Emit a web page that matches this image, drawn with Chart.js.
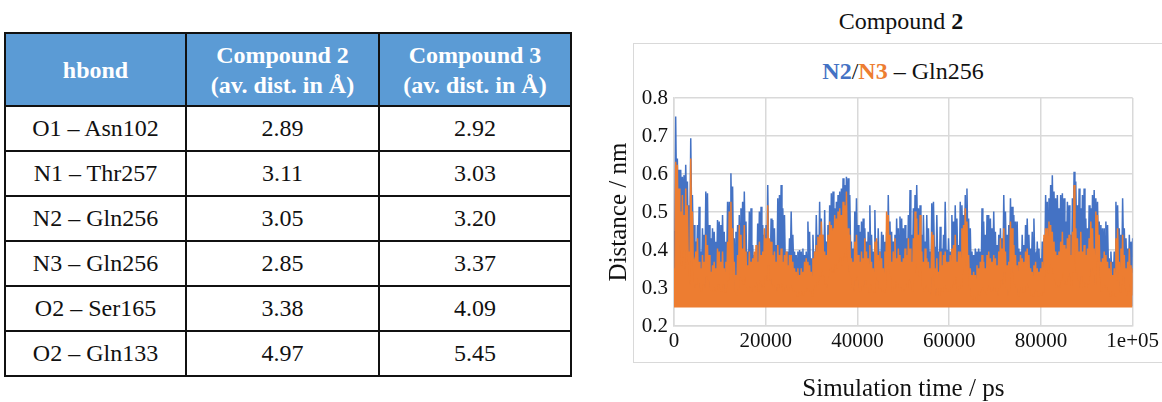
<!DOCTYPE html>
<html>
<head>
<meta charset="utf-8">
<script src="https://cdn.jsdelivr.net/npm/chart.js@4.4.0/dist/chart.umd.min.js"></script>
<style>
  html, body { margin: 0; padding: 0; background: #fff; }
  body { width: 1162px; height: 402px; position: relative; overflow: hidden; font-family: "Liberation Serif", Tinos, "Times New Roman", Times, "Nimbus Roman", "DejaVu Serif", "Noto Serif", serif; }
  #hbondTable { position: absolute; left: 4px; top: 32px; border-collapse: collapse; table-layout: fixed; font-family: inherit; }
  #hbondTable th, #hbondTable td { border: 2px solid #111; text-align: center; padding: 0; font-size: 24px; font-family: inherit; }
  #hbondTable th { background: #5b9bd5; color: #fff; font-weight: bold; height: 71px; line-height: 30px; }
  #hbondTable td { height: 43px; color: #111; }
  #chartBox { position: absolute; left: 633px; top: 43px; width: 560px; height: 318px; border: 1.5px solid #d9d9d9; }
  #mainTitle { position: absolute; left: 701px; width: 400px; top: 8px; text-align: center; font-size: 24px; color: #111; }
  #subTitle { position: absolute; left: 703px; width: 400px; top: 58px; text-align: center; font-size: 24px; color: #111; }
  #chartCanvas { position: absolute; left: 607px; top: 0; }
</style>
</head>
<body>
<table id="hbondTable"></table>
<div id="chartBox"></div>
<div id="mainTitle">Compound <b>2</b></div>
<div id="subTitle"><b style="color:#4472c4">N2</b>/<b style="color:#ed7d31">N3</b> – Gln256</div>
<canvas id="chartCanvas" width="555" height="402"></canvas>
<script>
// table
const hbondNames = ['O1 – Asn102', 'N1 – Thr257', 'N2 – Gln256', 'N3 – Gln256', 'O2 – Ser165', 'O2 – Gln133'];
const compound2Dist = ['2.89', '3.11', '3.05', '2.85', '3.38', '4.97'];
const compound3Dist = ['2.92', '3.03', '3.20', '3.37', '4.09', '5.45'];

// chart: distance (nm) vs simulation time
// peaks = spike tops, dips = the troughs between them
const n2Peaks = [
  0.450, 0.751, 0.641, 0.611, 0.611, 0.593, 0.597, 0.624, 0.580, 0.518, 0.694, 0.545, 0.466, 0.422, 0.466, 0.514, 0.396, 0.457, 0.440, 0.554,
  0.549, 0.466, 0.431, 0.457, 0.448, 0.422, 0.479, 0.475, 0.466, 0.492, 0.448, 0.422, 0.527, 0.527, 0.602, 0.567, 0.431, 0.448, 0.466, 0.492,
  0.510, 0.527, 0.554, 0.475, 0.396, 0.501, 0.510, 0.413, 0.387, 0.387, 0.470, 0.501, 0.514, 0.466, 0.440, 0.466, 0.571, 0.422, 0.483, 0.479,
  0.457, 0.413, 0.536, 0.545, 0.571, 0.510, 0.492, 0.396,
  0.396, 0.431, 0.501, 0.440, 0.396, 0.387, 0.396, 0.400, 0.396, 0.404, 0.387, 0.396, 0.475, 0.448, 0.378, 0.440, 0.396, 0.492, 0.440, 0.527,
  0.483, 0.440, 0.505, 0.422, 0.466, 0.518, 0.549, 0.554, 0.510, 0.527, 0.545, 0.554, 0.562, 0.589, 0.571, 0.593, 0.589, 0.545, 0.422, 0.404,
  0.501, 0.536, 0.466, 0.448, 0.475, 0.483, 0.457, 0.422, 0.448, 0.518, 0.440, 0.396, 0.505, 0.422, 0.457, 0.396, 0.448, 0.440, 0.422, 0.448,
  0.545, 0.475, 0.448, 0.422, 0.440, 0.483, 0.457, 0.488, 0.483, 0.457,
  0.466, 0.431, 0.492, 0.558, 0.440, 0.510, 0.545, 0.571, 0.510, 0.518, 0.440, 0.492, 0.422, 0.492, 0.457, 0.396, 0.523, 0.527, 0.404, 0.492,
  0.396, 0.461, 0.404, 0.440, 0.527, 0.387, 0.431, 0.396, 0.492, 0.475, 0.518, 0.483, 0.413, 0.527, 0.518, 0.492, 0.545, 0.562, 0.483, 0.457,
  0.396, 0.387, 0.404, 0.396, 0.404, 0.396, 0.510, 0.475, 0.440, 0.492, 0.492, 0.483, 0.457, 0.501, 0.448, 0.413, 0.440, 0.457, 0.431, 0.545,
  0.501, 0.440, 0.466, 0.536, 0.514, 0.492, 0.475, 0.475, 0.404, 0.396,
  0.440, 0.413, 0.466, 0.483, 0.440, 0.404, 0.448, 0.483, 0.387, 0.422, 0.404, 0.378, 0.422, 0.431, 0.545, 0.527, 0.536, 0.571, 0.597, 0.554,
  0.536, 0.545, 0.510, 0.545, 0.549, 0.536, 0.475, 0.527, 0.518, 0.440, 0.536, 0.606, 0.580, 0.518, 0.562, 0.510, 0.545, 0.562, 0.483, 0.457,
  0.518, 0.510, 0.545, 0.558, 0.536, 0.527, 0.475, 0.466, 0.457, 0.457, 0.475, 0.466, 0.378, 0.396, 0.369, 0.396, 0.527, 0.518, 0.457, 0.440,
  0.536, 0.457, 0.431, 0.404, 0.440, 0.422, 0.431
];
const n2Dips = [
  0.40, 0.55, 0.52, 0.50, 0.48, 0.50, 0.47, 0.52, 0.42, 0.45, 0.50, 0.40, 0.36, 0.35, 0.38, 0.36, 0.33, 0.36, 0.35, 0.40,
  0.38, 0.34, 0.36, 0.35, 0.37, 0.34, 0.38, 0.36, 0.35, 0.37, 0.34, 0.36, 0.40, 0.42, 0.45, 0.38, 0.35, 0.37, 0.36, 0.38,
  0.40, 0.38, 0.41, 0.35, 0.33, 0.37, 0.39, 0.35, 0.33, 0.34, 0.37, 0.39, 0.38, 0.36, 0.35, 0.37, 0.40, 0.34, 0.37, 0.36,
  0.35, 0.34, 0.39, 0.41, 0.40, 0.37, 0.36, 0.33,
  0.34, 0.36, 0.38, 0.35, 0.33, 0.34, 0.33, 0.35, 0.34, 0.33, 0.34, 0.35, 0.37, 0.34, 0.33, 0.36, 0.34, 0.38, 0.35, 0.39,
  0.36, 0.35, 0.38, 0.34, 0.36, 0.39, 0.42, 0.41, 0.40, 0.43, 0.42, 0.44, 0.45, 0.46, 0.44, 0.47, 0.45, 0.40, 0.34, 0.35,
  0.38, 0.40, 0.36, 0.35, 0.37, 0.38, 0.36, 0.34, 0.36, 0.39, 0.35, 0.33, 0.37, 0.34, 0.36, 0.33, 0.35, 0.36, 0.34, 0.35,
  0.40, 0.37, 0.35, 0.34, 0.35, 0.38, 0.36, 0.37, 0.38, 0.35,
  0.36, 0.34, 0.38, 0.42, 0.35, 0.39, 0.42, 0.44, 0.40, 0.41, 0.35, 0.38, 0.34, 0.38, 0.36, 0.33, 0.40, 0.41, 0.34, 0.38,
  0.33, 0.37, 0.34, 0.36, 0.40, 0.33, 0.35, 0.33, 0.38, 0.37, 0.40, 0.37, 0.34, 0.40, 0.40, 0.38, 0.41, 0.43, 0.37, 0.35,
  0.33, 0.32, 0.34, 0.33, 0.34, 0.33, 0.39, 0.37, 0.35, 0.38, 0.38, 0.37, 0.36, 0.39, 0.35, 0.34, 0.35, 0.36, 0.35, 0.41,
  0.38, 0.35, 0.37, 0.40, 0.39, 0.38, 0.37, 0.36, 0.34, 0.33,
  0.35, 0.34, 0.37, 0.38, 0.35, 0.34, 0.36, 0.38, 0.33, 0.35, 0.34, 0.33, 0.35, 0.36, 0.42, 0.41, 0.42, 0.44, 0.46, 0.43,
  0.42, 0.43, 0.40, 0.43, 0.43, 0.42, 0.38, 0.41, 0.40, 0.35, 0.42, 0.47, 0.45, 0.40, 0.44, 0.40, 0.42, 0.44, 0.38, 0.36,
  0.40, 0.39, 0.42, 0.43, 0.41, 0.40, 0.37, 0.36, 0.36, 0.35, 0.37, 0.36, 0.33, 0.34, 0.33, 0.34, 0.41, 0.40, 0.36, 0.35,
  0.41, 0.36, 0.35, 0.33, 0.35, 0.34, 0.35
];
const n3Peaks = [
  0.352, 0.632, 0.624, 0.562, 0.501, 0.545, 0.492, 0.562, 0.518, 0.396, 0.641, 0.501, 0.369, 0.396, 0.431, 0.369, 0.352, 0.387, 0.369, 0.440,
  0.413, 0.387, 0.343, 0.360, 0.369, 0.352, 0.404, 0.396, 0.369, 0.396, 0.352, 0.369, 0.422, 0.501, 0.527, 0.457, 0.369, 0.334, 0.387, 0.466,
  0.440, 0.404, 0.466, 0.396, 0.360, 0.396, 0.369, 0.378, 0.396, 0.413, 0.369, 0.422, 0.387, 0.396, 0.457, 0.431, 0.518, 0.431, 0.422, 0.387,
  0.396, 0.369, 0.413, 0.387, 0.404, 0.369, 0.387, 0.396,
  0.360, 0.387, 0.387, 0.369, 0.352, 0.343, 0.352, 0.334, 0.352, 0.343, 0.369, 0.378, 0.369, 0.360, 0.343, 0.378, 0.396, 0.413, 0.435, 0.440,
  0.475, 0.440, 0.396, 0.387, 0.440, 0.475, 0.466, 0.457, 0.492, 0.483, 0.501, 0.510, 0.492, 0.527, 0.518, 0.554, 0.457, 0.440, 0.378, 0.369,
  0.422, 0.440, 0.387, 0.369, 0.396, 0.378, 0.431, 0.396, 0.378, 0.413, 0.369, 0.352, 0.422, 0.431, 0.387, 0.396, 0.378, 0.352, 0.396, 0.501,
  0.492, 0.440, 0.369, 0.396, 0.431, 0.378, 0.404, 0.387, 0.369, 0.378,
  0.404, 0.387, 0.431, 0.404, 0.369, 0.431, 0.501, 0.483, 0.440, 0.492, 0.396, 0.369, 0.404, 0.378, 0.369, 0.352, 0.448, 0.440, 0.352, 0.378,
  0.343, 0.396, 0.360, 0.387, 0.396, 0.369, 0.369, 0.387, 0.404, 0.413, 0.440, 0.369, 0.396, 0.396, 0.457, 0.466, 0.510, 0.475, 0.387, 0.352,
  0.334, 0.343, 0.334, 0.360, 0.352, 0.369, 0.387, 0.369, 0.352, 0.387, 0.396, 0.378, 0.369, 0.387, 0.378, 0.360, 0.396, 0.431, 0.404, 0.457,
  0.396, 0.360, 0.369, 0.475, 0.457, 0.413, 0.387, 0.360, 0.369, 0.387,
  0.378, 0.369, 0.396, 0.404, 0.387, 0.352, 0.343, 0.360, 0.369, 0.352, 0.343, 0.352, 0.369, 0.440, 0.457, 0.457, 0.475, 0.466, 0.448, 0.422,
  0.396, 0.387, 0.396, 0.422, 0.448, 0.413, 0.404, 0.431, 0.440, 0.387, 0.448, 0.571, 0.457, 0.431, 0.396, 0.448, 0.396, 0.413, 0.387, 0.404,
  0.431, 0.475, 0.457, 0.404, 0.501, 0.492, 0.440, 0.369, 0.378, 0.396, 0.387, 0.369, 0.352, 0.369, 0.334, 0.352, 0.431, 0.457, 0.369, 0.404,
  0.440, 0.387, 0.352, 0.369, 0.404, 0.360, 0.352
];
const n3Dips = [
  0.30, 0.45, 0.42, 0.40, 0.36, 0.40, 0.35, 0.40, 0.37, 0.31, 0.44, 0.36, 0.30, 0.31, 0.32, 0.30, 0.29, 0.31, 0.30, 0.33,
  0.32, 0.30, 0.29, 0.29, 0.30, 0.29, 0.31, 0.30, 0.29, 0.31, 0.29, 0.30, 0.32, 0.36, 0.38, 0.33, 0.29, 0.28, 0.30, 0.33,
  0.32, 0.31, 0.33, 0.30, 0.29, 0.30, 0.29, 0.30, 0.30, 0.31, 0.29, 0.32, 0.30, 0.30, 0.33, 0.32, 0.36, 0.32, 0.31, 0.30,
  0.30, 0.29, 0.31, 0.30, 0.31, 0.29, 0.30, 0.30,
  0.29, 0.30, 0.30, 0.29, 0.29, 0.28, 0.29, 0.28, 0.29, 0.28, 0.29, 0.30, 0.29, 0.29, 0.28, 0.30, 0.30, 0.31, 0.32, 0.33,
  0.35, 0.33, 0.31, 0.30, 0.33, 0.35, 0.34, 0.34, 0.36, 0.35, 0.37, 0.38, 0.36, 0.38, 0.38, 0.40, 0.34, 0.33, 0.30, 0.29,
  0.32, 0.33, 0.30, 0.29, 0.30, 0.30, 0.32, 0.30, 0.29, 0.31, 0.29, 0.29, 0.32, 0.32, 0.30, 0.30, 0.29, 0.29, 0.30, 0.36,
  0.35, 0.33, 0.29, 0.30, 0.32, 0.30, 0.31, 0.30, 0.29, 0.29,
  0.31, 0.30, 0.32, 0.31, 0.29, 0.32, 0.36, 0.35, 0.33, 0.36, 0.30, 0.29, 0.31, 0.30, 0.29, 0.28, 0.33, 0.32, 0.28, 0.30,
  0.28, 0.30, 0.29, 0.30, 0.30, 0.29, 0.29, 0.30, 0.31, 0.31, 0.33, 0.29, 0.30, 0.30, 0.34, 0.35, 0.37, 0.35, 0.30, 0.28,
  0.27, 0.28, 0.27, 0.29, 0.28, 0.29, 0.30, 0.29, 0.28, 0.30, 0.30, 0.29, 0.29, 0.30, 0.29, 0.28, 0.30, 0.32, 0.31, 0.34,
  0.30, 0.28, 0.29, 0.35, 0.34, 0.31, 0.30, 0.28, 0.29, 0.30,
  0.29, 0.29, 0.30, 0.31, 0.30, 0.28, 0.28, 0.29, 0.29, 0.28, 0.28, 0.28, 0.29, 0.33, 0.34, 0.34, 0.36, 0.35, 0.34, 0.32,
  0.30, 0.30, 0.30, 0.32, 0.34, 0.31, 0.31, 0.33, 0.33, 0.30, 0.34, 0.42, 0.34, 0.32, 0.30, 0.33, 0.30, 0.31, 0.30, 0.31,
  0.33, 0.35, 0.34, 0.31, 0.37, 0.37, 0.33, 0.29, 0.30, 0.31, 0.30, 0.29, 0.28, 0.29, 0.28, 0.28, 0.32, 0.34, 0.29, 0.31,
  0.33, 0.30, 0.28, 0.29, 0.31, 0.28, 0.29
];
const simEndPs = 100000;
const xTickLabels = ['0', '20000', '40000', '60000', '80000', '1e+05'];
const yTickLabels = ['0.2', '0.3', '0.4', '0.5', '0.6', '0.7', '0.8'];

// build table
const table = document.getElementById('hbondTable');
let html = '<colgroup><col style="width:181px"><col style="width:193px"><col style="width:192px"></colgroup>';
html += '<tr><th>hbond</th><th>Compound 2<br>(av. dist. in Å)</th><th>Compound 3<br>(av. dist. in Å)</th></tr>';
hbondNames.forEach((name, i) => {
    html += `<tr><td>${name}</td><td>${compound2Dist[i]}</td><td>${compound3Dist[i]}</td></tr>`;
});
table.innerHTML = html;

// peak at each sample time, trough half a step later
const stepPs = simEndPs / (n2Peaks.length - 1);
function tracePoints(peaks, dips) {
    const pts = [];
    peaks.forEach((v, i) => {
        pts.push({ x: i * stepPs, y: v });
        if (i < peaks.length - 1 && dips[i] !== undefined) pts.push({ x: (i + 0.5) * stepPs, y: dips[i] });
    });
    return pts;
}

const fontFam = '"Liberation Serif", Tinos, "Times New Roman", Times, "Nimbus Roman", "DejaVu Serif", "Noto Serif", serif';
const tickFont = { family: fontFam, size: 21 };
const titleFont = { family: fontFam, size: 25, lineHeight: 1 };

new Chart(document.getElementById('chartCanvas').getContext('2d'), {
    type: 'line',
    data: {
        datasets: [
            {
                label: 'N2',
                data: tracePoints(n2Peaks, n2Dips),
                borderColor: '#4472c4',
                backgroundColor: '#4472c4',
                borderWidth: 1.5,
                pointRadius: 0,
                tension: 0,
                fill: { value: 0.252 },
                order: 1
            },
            {
                label: 'N3',
                data: tracePoints(n3Peaks, n3Dips),
                borderColor: '#ed7d31',
                backgroundColor: '#ed7d31',
                borderWidth: 1.5,
                pointRadius: 0,
                tension: 0,
                fill: { value: 0.249 },
                order: 0
            }
        ]
    },
    options: {
        responsive: false,
        animation: false,
        devicePixelRatio: 1,
        layout: { padding: { left: 0, right: 29, top: 98, bottom: 0 } },
        plugins: {
            legend: { display: false },
            tooltip: { enabled: false }
        },
        scales: {
            x: {
                type: 'linear',
                min: 0,
                max: simEndPs,
                afterFit: s => { s.height = 76; },
                afterBuildTicks: s => { s.ticks = xTickLabels.map((_, i) => ({ value: i * 20000 })); },
                grid: { color: '#d9d9d9', lineWidth: 1.5, drawTicks: false },
                border: { color: '#d9d9d9', width: 1.5 },
                ticks: {
                    color: '#111',
                    font: tickFont,
                    padding: 3,
                    maxRotation: 0,
                    callback: (v, i) => xTickLabels[i]
                },
                title: { display: true, text: 'Simulation time / ps', color: '#111', font: titleFont, padding: 0 }
            },
            y: {
                min: 0.2,
                max: 0.8,
                afterFit: s => { s.width = 67; },
                afterBuildTicks: s => { s.ticks = yTickLabels.map(t => ({ value: parseFloat(t) })); },
                grid: { color: '#d9d9d9', lineWidth: 1.5, drawTicks: false },
                border: { color: '#d9d9d9', width: 1.5 },
                ticks: {
                    color: '#111',
                    font: tickFont,
                    padding: 6,
                    callback: (v, i) => yTickLabels[i]
                },
                title: { display: true, text: 'Distance / nm', color: '#111', font: titleFont, padding: 0 }
            }
        }
    }
});
</script>
</body>
</html>
